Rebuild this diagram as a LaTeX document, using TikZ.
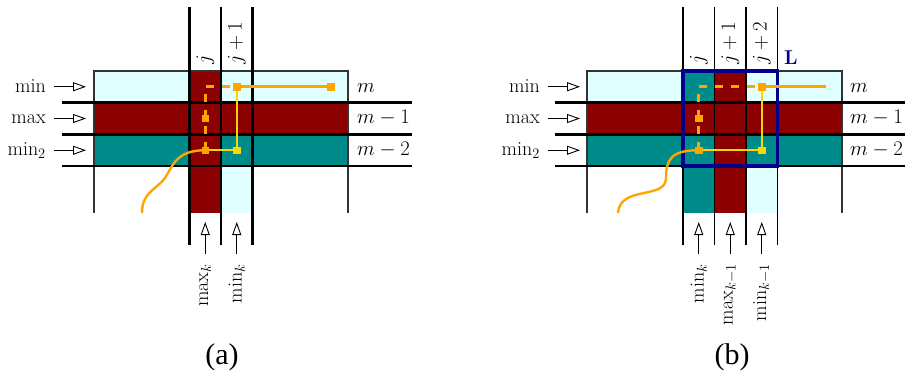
\documentclass[tikz,border=0pt]{standalone}
\usepackage{fontspec}
\newfontfamily\capfont{Liberation Serif}
\usetikzlibrary{arrows.meta}
\definecolor{dred}{HTML}{8B0000}
\definecolor{dteal}{HTML}{008B8B}
\definecolor{lcyan}{HTML}{E0FFFF}
\definecolor{orng}{HTML}{FFA500}
\definecolor{gld}{HTML}{FFD700}
\definecolor{nvy}{HTML}{00008B}
\begin{document}
\begin{tikzpicture}[x=1pt,y=-1pt,
  lbl/.style={font=\fontsize{20}{24}\selectfont, inner sep=0pt},
  arr/.style={-{Triangle[open,length=13pt,width=9pt]}, line width=0.9pt},
  hline/.style={line width=2.1pt},
  vthick/.style={line width=2.1pt},
  vthin/.style={line width=1.1pt},
  outerln/.style={line width=1.2pt, draw=black!80},
  sqO/.style={fill=orng, minimum size=7.5pt, inner sep=0pt},
  sqY/.style={fill=gld, minimum size=7.5pt, inner sep=0pt},
  opath/.style={draw=orng, line width=2.8pt},
  ypath/.style={draw=gld, line width=2.3pt},
  dpath/.style={draw=orng, line width=2.8pt, dash pattern=on 8pt off 8pt},
  curv/.style={draw=orng, line width=2.4pt},
  captxt/.style={font=\capfont\fontsize{30}{34}\selectfont, inner sep=0pt}
  ]
\useasboundingbox (0,0) rectangle (906,376);

% ================= panel (a) =================
\fill[lcyan] (94,71) rectangle (348,102.5);
\fill[dred] (94,102.5) rectangle (348,134.5);
\fill[dteal] (94,134.5) rectangle (348,166);
\fill[dred] (189.5,71) rectangle (221,213);
\fill[lcyan] (221,166) rectangle (252.5,213);
\draw[outerln] (94,213) -- (94,71) -- (348,71) -- (348,213);
\foreach \y in {102.5,134.5,166} \draw[hline] (62,\y) -- (412,\y);
\foreach \x in {189.5,221,252.5} \draw[vthick] (\x,7) -- (\x,245);

% left labels
\node[lbl,anchor=base east] (aLmin) at (46,92) {$\min$};
\node[lbl,anchor=base east] (aLmax) at (46,123.5) {$\max$};
\node[lbl,anchor=base east] (aLmintwo) at (46,155) {$\min_2$};
\coordinate (aTmin) at (86,86.75);
\coordinate (aTmax) at (86,118.5);
\coordinate (aTmintwo) at (86,150.25);
\draw[arr,shorten <=8pt] (aLmin.base east |- aTmin) -- (aTmin);
\draw[arr,shorten <=8pt] (aLmax.base east |- aTmax) -- (aTmax);
\draw[arr,shorten <=8pt] (aLmintwo.base east |- aTmintwo) -- (aTmintwo);

% right labels
\node[lbl,anchor=base west] (aRm) at (357,92) {$m$};
\node[lbl,anchor=base west] (aRmone) at (357,123.5) {$m-1$};
\node[lbl,anchor=base west] (aRmtwo) at (357,155) {$m-2$};

% top labels
\node[lbl,rotate=90,anchor=west] (aTj) at (205.25,65) {$j$};
\node[lbl,rotate=90,anchor=west] (aTjone) at (236.75,65) {$j+1$};

% bottom labels
\node[lbl,rotate=90,anchor=east] (aBmax) at (205.25,264) {$\max_k$};
\node[lbl,rotate=90,anchor=east] (aBmin) at (236.75,264) {$\min_k$};
\coordinate (aBtmax) at (205.25,222);
\coordinate (aBtmin) at (236.75,222);
\draw[arr,shorten <=10pt] (aBtmax |- aBmax.east) -- (aBtmax);
\draw[arr,shorten <=10pt] (aBtmin |- aBmin.east) -- (aBtmin);

% orange path
\coordinate (aQ1) at (205.25,150.25);
\coordinate (aQ2) at (205.25,118.5);
\coordinate (aQc) at (205.25,86.75);
\coordinate (aQ3) at (236.75,86.75);
\coordinate (aQ4) at (331,86.75);
\coordinate (aQ5) at (236.75,150.25);
\draw[dpath] (aQ1) -- (aQc) -- (aQ3);
\draw[opath] (aQ3) -- (aQ4);
\draw[ypath] (aQ3) -- (aQ5) -- (aQ1);
\draw[curv] (aQ1) .. controls (175,150) and (172,168) .. (165,178)
                  .. controls (156,190) and (142,192) .. (142,213);
\node[sqO] (aS1) at (aQ1) {};
\node[sqO] (aS2) at (aQ2) {};
\node[sqO] (aS3) at (aQ3) {};
\node[sqO] (aS4) at (aQ4) {};
\node[sqY] (aS5) at (aQ5) {};

\node[captxt] (capA) at (222,357) {(a)};

% ================= panel (b) =================
\begin{scope}[xshift=493pt]
\fill[lcyan] (94,71) rectangle (349,102.5);
\fill[dred] (94,102.5) rectangle (349,134.5);
\fill[dteal] (94,134.5) rectangle (349,166);
\fill[dteal] (190,71) rectangle (221.5,213);
\fill[dred] (190,102.5) rectangle (221.5,134.5);
\fill[dred] (221.5,71) rectangle (253,213);
\fill[lcyan] (253,166) rectangle (284.5,213);
\draw[outerln] (94,213) -- (94,71) -- (349,71) -- (349,213);
\foreach \y in {102.5,134.5,166} \draw[hline] (62,\y) -- (412,\y);
\foreach \x in {190,221.5,253,284.5} \draw[vthin] (\x,7) -- (\x,245);
\draw[nvy, line width=3.2pt] (190,71) rectangle (284.5,166);
\node[font=\bfseries\fontsize{20}{24}\selectfont, text=nvy, inner sep=0pt] (bL) at (298,58) {L};

% left labels
\node[lbl,anchor=base east] (bLmin) at (47,92) {$\min$};
\node[lbl,anchor=base east] (bLmax) at (47,123.5) {$\max$};
\node[lbl,anchor=base east] (bLmintwo) at (47,155) {$\min_2$};
\coordinate (bTmin) at (87,86.75);
\coordinate (bTmax) at (87,118.5);
\coordinate (bTmintwo) at (87,150.25);
\draw[arr,shorten <=8pt] (bLmin.base east |- bTmin) -- (bTmin);
\draw[arr,shorten <=8pt] (bLmax.base east |- bTmax) -- (bTmax);
\draw[arr,shorten <=8pt] (bLmintwo.base east |- bTmintwo) -- (bTmintwo);

% right labels
\node[lbl,anchor=base west] (bRm) at (357,92) {$m$};
\node[lbl,anchor=base west] (bRmone) at (357,123.5) {$m-1$};
\node[lbl,anchor=base west] (bRmtwo) at (357,155) {$m-2$};

% top labels
\node[lbl,rotate=90,anchor=west] (bTj) at (205.75,65) {$j$};
\node[lbl,rotate=90,anchor=west] (bTjone) at (237.25,65) {$j+1$};
\node[lbl,rotate=90,anchor=west] (bTjtwo) at (268.75,65) {$j+2$};

% bottom labels
\node[lbl,rotate=90,anchor=east] (bBmin) at (205.75,264) {$\min_k$};
\node[lbl,rotate=90,anchor=east] (bBmax) at (237.25,264) {$\max_{k-1}$};
\node[lbl,rotate=90,anchor=east] (bBminone) at (268.75,264) {$\min_{k-1}$};
\coordinate (bBtmin) at (205.75,222);
\coordinate (bBtmax) at (237.25,222);
\coordinate (bBtminone) at (268.75,222);
\draw[arr,shorten <=10pt] (bBtmin |- bBmin.east) -- (bBtmin);
\draw[arr,shorten <=10pt] (bBtmax |- bBmax.east) -- (bBtmax);
\draw[arr,shorten <=10pt] (bBtminone |- bBminone.east) -- (bBtminone);

% orange path
\coordinate (bQ1) at (205.75,150.25);
\coordinate (bQ2) at (205.75,118.5);
\coordinate (bQc) at (205.75,86.75);
\coordinate (bQ3) at (268.75,86.75);
\coordinate (bQ4) at (333,86.75);
\coordinate (bQ5) at (268.75,150.25);
\draw[dpath] (bQ1) -- (bQc) -- (bQ3);
\draw[opath] (bQ3) -- (bQ4);
\draw[ypath] (bQ3) -- (bQ5) -- (bQ1);
\draw[curv] (bQ1) .. controls (178,150) and (173,160) .. (173,178)
                  .. controls (173,200) and (127,185) .. (125,213);
\node[sqO] (bS1) at (bQ1) {};
\node[sqO] (bS2) at (bQ2) {};
\node[sqO] (bS3) at (bQ3) {};
\node[sqY] (bS5) at (bQ5) {};

\node[captxt] (capB) at (239,357) {(b)};
\end{scope}
\end{tikzpicture}
\end{document}
